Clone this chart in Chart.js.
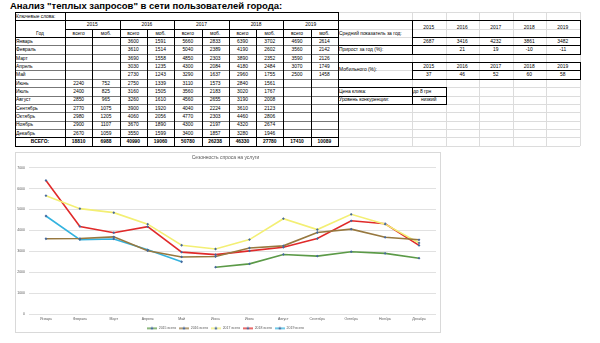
<!DOCTYPE html>
<html>
<head>
<meta charset="utf-8">
<script src="https://cdn.jsdelivr.net/npm/chart.js@4/dist/chart.umd.min.js"></script>
<style>
  body { margin: 0; background: #fff; width: 600px; height: 343px; overflow: hidden; position: relative; font-family: "Liberation Sans", Arial, sans-serif; }
  #title { position: absolute; left: 10px; top: 1.4px; font-size: 10.2px; line-height: 1; font-weight: bold; white-space: nowrap; color: #000; }
  .c { position: absolute; box-sizing: border-box; font-size: 4.9px; line-height: 1; color: #000; white-space: nowrap; overflow: hidden; display: flex; align-items: flex-end; padding: 0 1px 0.5px 1px; }
  .l { justify-content: flex-start; }
  .m { justify-content: center; }
  .b { font-weight: bold; }
  .vc { align-items: center; padding-bottom: 0; }
  .ln { position: absolute; }
  #chartBox { position: absolute; left: 15px; top: 152px; width: 425.5px; height: 181px; box-sizing: border-box; border: 1px solid #d9d9d9; }
  #chart { position: absolute; left: 15px; top: 152px; }
</style>
</head>
<body>
<div id="title">Анализ "теплых запросов" в сети пользователей города:</div>
<div id="sheet"></div>
<div id="chartBox"></div>
<canvas id="chart" width="425" height="181"></canvas>
<script>
// данные таблицы
const months = ['Январь', 'Февраль', 'Март', 'Апрель', 'Май', 'Июнь', 'Июль', 'Август', 'Сентябрь', 'Октябрь', 'Ноябрь', 'Декабрь'];
const years = ['2015', '2016', '2017', '2018', '2019'];
const all2015 = [null, null, null, null, null, 2240, 2400, 2850, 2770, 2980, 2900, 2670];
const mob2015 = [null, null, null, null, null, 752, 825, 965, 1075, 1205, 1107, 1059];
const all2016 = [3600, 3610, 3690, 3030, 2730, 2750, 3160, 3260, 3900, 4060, 3670, 3550];
const mob2016 = [1591, 1514, 1558, 1235, 1243, 1339, 1505, 1610, 1920, 2056, 1890, 1599];
const all2017 = [5660, 5040, 4850, 4300, 3290, 3110, 3560, 4560, 4040, 4770, 4300, 3400];
const mob2017 = [2833, 2389, 2303, 2084, 1637, 1573, 2183, 2655, 2224, 2303, 2197, 1857];
const all2018 = [6390, 4190, 3890, 4180, 2960, 2840, 3020, 3190, 3610, 4460, 4320, 3280];
const mob2018 = [3702, 2602, 2352, 2484, 1755, 1561, 1767, 2008, 2123, 2806, 2674, 1946];
const all2019 = [4690, 3560, 3590, 3070, 2500, null, null, null, null, null, null, null];
const mob2019 = [2614, 2142, 2126, 1749, 1458, null, null, null, null, null, null, null];
const totalsAll = [18810, 40990, 50780, 46330, 17410];
const totalsMob = [6988, 19060, 26238, 27780, 10089];
const avgPerYear = [2687, 3416, 4232, 3861, 3482];
const growthPct = [null, 21, 19, -10, -11];
const mobilePct = [37, 46, 52, 60, 58];
const clickPrice = 'до 8 грн';
const competition = 'низкий';

// данные графика
const seriesLabels = ['2015 всего', '2016 всего', '2017 всего', '2018 всего', '2019 всего'];
const seriesColors = ['#5b9a47', '#97783f', '#f3ef74', '#e02a2a', '#34b3df'];
const markerColor = '#44679c';
const yMax = 7000;
const yStep = 1000;

const allByYear = [all2015, all2016, all2017, all2018, all2019];
const mobByYear = [mob2015, mob2016, mob2017, mob2018, mob2019];

// ---- таблица ----
let html = '';
function cell(x, y, w, h, text, cls) {
    html += '<div class="c ' + (cls || 'm') + '" style="left:' + x + 'px;top:' + y + 'px;width:' + w + 'px;height:' + h + 'px">' + (text === null ? '' : text) + '</div>';
}
function line(x, y, w, h, color) {
    html += '<div class="ln" style="left:' + x + 'px;top:' + y + 'px;width:' + w + 'px;height:' + h + 'px;background:' + color + '"></div>';
}
function hline(x1, x2, y, color) { line(x1, y, x2 - x1, 1, color); }
function vline(x, y1, y2, color) { line(x, y1, 1, y2 - y1, color); }

const top0 = 12;
const rowH = 8.35;
const rowY = i => top0 + i * rowH;
const labelX = 15, labelW = 50, subW = 27.3;
const subX = i => labelX + labelW + i * subW;
const tableRight = subX(10);
const rightCols = [338, 412, 445.5, 479, 512.5, 546, 579.5];

// сетка листа справа
for (let i = 0; i <= 16; i++) hline(338, 579.5, rowY(i), '#dcdcdc');
rightCols.forEach(x => vline(x, rowY(0), rowY(16), '#dcdcdc'));

// левая таблица — линии
for (let i = 4; i <= 14; i++) hline(labelX, tableRight, rowY(i), '#777');
hline(labelX, tableRight, rowY(0), '#000');
hline(labelX, tableRight, rowY(1), '#000');
hline(subX(0), tableRight, rowY(2), '#000');
hline(labelX, tableRight, rowY(3), '#000');
hline(labelX, tableRight, rowY(15), '#000');
hline(labelX, tableRight + 1, rowY(16), '#000');
vline(labelX, rowY(0), rowY(16), '#000');
vline(tableRight, rowY(0), rowY(16), '#000');
vline(subX(0), rowY(0), rowY(16), '#000');
for (let y = 1; y < 5; y++) vline(subX(y * 2), rowY(1), rowY(16), '#000');
for (let y = 0; y < 5; y++) vline(subX(y * 2 + 1), rowY(2), rowY(16), '#000');

// левая таблица — тексты
cell(labelX, rowY(0), labelW, rowH, 'Ключевые слова:', 'l');
cell(labelX, rowY(2), labelW, rowH, 'Год');
years.forEach((yr, y) => {
    cell(subX(y * 2), rowY(1), subW * 2, rowH, yr);
    cell(subX(y * 2), rowY(2), subW, rowH, 'всего');
    cell(subX(y * 2 + 1), rowY(2), subW, rowH, 'моб.');
});
months.forEach((m, i) => {
    cell(labelX, rowY(3 + i), labelW, rowH, m, 'l');
    for (let y = 0; y < 5; y++) {
        cell(subX(y * 2), rowY(3 + i), subW, rowH, allByYear[y][i]);
        cell(subX(y * 2 + 1), rowY(3 + i), subW, rowH, mobByYear[y][i]);
    }
});
cell(labelX, rowY(15), labelW, rowH, 'ВСЕГО:', 'm b');
for (let y = 0; y < 5; y++) {
    cell(subX(y * 2), rowY(15), subW, rowH, totalsAll[y], 'm b');
    cell(subX(y * 2 + 1), rowY(15), subW, rowH, totalsMob[y], 'm b');
}

// правый блок — рамки
function box(x1, y1, x2, y2) {
    hline(x1, x2, y1, '#000');
    hline(x1, x2 + 1, y2, '#000');
    vline(x1, y1, y2, '#000');
    vline(x2, y1, y2, '#000');
}
box(338, rowY(1), 579.5, rowY(5));
vline(412, rowY(1), rowY(5), '#000');
hline(412, 579.5, rowY(3), '#000');
hline(338, 579.5, rowY(4), '#000');
box(338, rowY(6), 579.5, rowY(8));
vline(412, rowY(6), rowY(8), '#000');
hline(412, 579.5, rowY(7), '#000');
box(338, rowY(9), 445.5, rowY(11));
vline(412, rowY(9), rowY(11), '#000');
hline(338, 445.5, rowY(10), '#000');

// правый блок — тексты
cell(338, rowY(1), 74, rowH * 2, 'Средний показатель за год:', 'l');
cell(338, rowY(4), 74, rowH, 'Прирост за год (%):', 'l');
cell(338, rowY(6), 74, rowH * 2, 'Мобильного (%):', 'l vc');
for (let y = 0; y < 5; y++) {
    const x = rightCols[y + 1];
    const w = rightCols[y + 2] - x;
    cell(x, rowY(1), w, rowH * 2, years[y], 'm vc');
    cell(x, rowY(3), w, rowH, avgPerYear[y]);
    cell(x, rowY(4), w, rowH, growthPct[y]);
    cell(x, rowY(6), w, rowH, years[y]);
    cell(x, rowY(7), w, rowH, mobilePct[y]);
}
cell(338, rowY(9), 74, rowH, 'Цена клика:', 'l');
cell(338, rowY(10), 74, rowH, 'Уровень конкуренции:', 'l');
cell(412, rowY(9), 33.5, rowH, clickPrice, 'l');
cell(412, rowY(10), 33.5, rowH, competition);

document.getElementById('sheet').innerHTML = html;

// заголовок подгоняем по ширине
const titleEl = document.getElementById('title');
const tw = titleEl.getBoundingClientRect().width;
titleEl.style.fontSize = (10.2 * 272 / tw) + 'px';

// ---- график ----
Chart.defaults.font.family = '"Liberation Sans", Arial, sans-serif';
Chart.defaults.color = '#595959';

function legendIcon(color) {
    const c = document.createElement('canvas');
    c.width = 10; c.height = 4;
    const ctx = c.getContext('2d');
    ctx.strokeStyle = color;
    ctx.lineWidth = 1.4;
    ctx.beginPath(); ctx.moveTo(0, 2); ctx.lineTo(10, 2); ctx.stroke();
    ctx.fillStyle = markerColor;
    ctx.beginPath(); ctx.moveTo(5, 0.4); ctx.lineTo(6.6, 2); ctx.lineTo(5, 3.6); ctx.lineTo(3.4, 2); ctx.closePath(); ctx.fill();
    return c;
}
const icons = seriesColors.map(legendIcon);

const datasets = seriesLabels.map((label, i) => ({
    label: label,
    data: allByYear[i],
    borderColor: seriesColors[i],
    backgroundColor: seriesColors[i],
    borderWidth: 1.6,
    pointStyle: 'rectRot',
    pointRadius: 1.4,
    pointBorderWidth: 0,
    pointBackgroundColor: markerColor,
    tension: 0,
    spanGaps: false
}));

new Chart(document.getElementById('chart'), {
    type: 'line',
    data: { labels: months, datasets: datasets },
    options: {
        responsive: false,
        animation: false,
        layout: { padding: { left: 0, right: 4, top: 0, bottom: 0 } },
        scales: {
            x: {
                offset: true,
                grid: { display: false, drawTicks: false },
                border: { display: false },
                ticks: { font: { size: 3.5 }, padding: 3, maxRotation: 0, autoSkip: false },
                afterFit: s => { s.height = 9.8; }
            },
            y: {
                min: 0,
                max: yMax,
                ticks: { stepSize: yStep, font: { size: 3.5 }, padding: 4, callback: v => String(v) },
                grid: { color: '#d9d9d9', lineWidth: 0.8, drawTicks: false },
                border: { display: false },
                afterFit: s => { s.width = 14; }
            }
        },
        plugins: {
            title: {
                display: true,
                text: 'Сезонность спроса на услуги',
                color: '#595959',
                font: { size: 5, weight: 'normal' },
                padding: { top: 3, bottom: 6.7 }
            },
            legend: {
                position: 'bottom',
                maxHeight: 9.2,
                labels: {
                    font: { size: 3.5 },
                    color: '#595959',
                    padding: 2.8,
                    usePointStyle: true,
                    pointStyleWidth: 10,
                    generateLabels: chart => chart.data.datasets.map((ds, i) => ({
                        text: ds.label,
                        pointStyle: icons[i],
                        fillStyle: ds.borderColor,
                        strokeStyle: ds.borderColor,
                        lineWidth: 0,
                        hidden: false,
                        datasetIndex: i,
                        fontColor: '#595959'
                    }))
                }
            },
            tooltip: { enabled: false }
        }
    }
});
</script>
</body>
</html>
